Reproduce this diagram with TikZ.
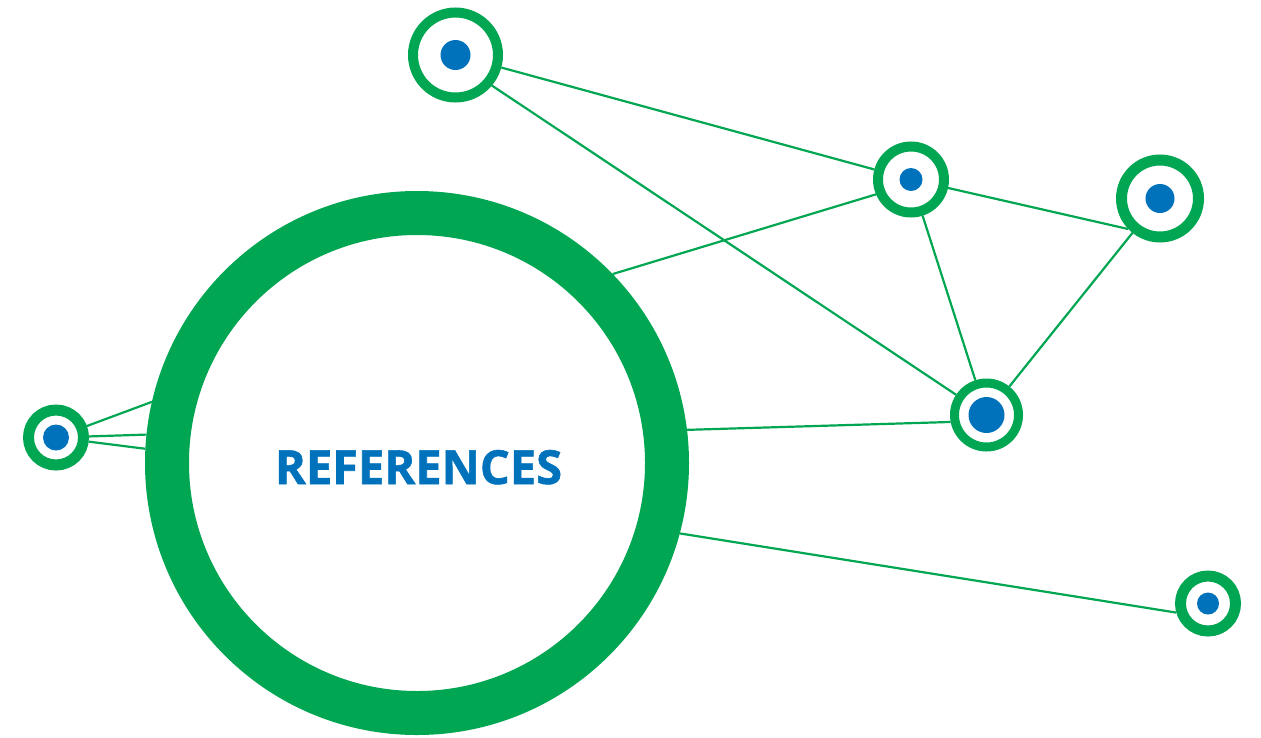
\documentclass[tikz,border=0pt]{standalone}
\usepackage{fontspec}
\setmainfont{Open Sans}[BoldFeatures={FakeBold=1.2}]
\definecolor{ngreen}{RGB}{0,166,81}
\definecolor{nblue}{RGB}{0,114,188}
\tikzset{
  ring/.style 2 args={circle, draw=ngreen, fill=white, line width=#2pt,
    minimum size=2*#1pt-#2pt, inner sep=0pt, outer sep=#2pt/2},
  bluedot/.style={circle, fill=nblue, inner sep=0pt, minimum size=#1},
  link/.style={draw=ngreen, line width=2.2pt},
  titletext/.style={text=nblue, font=\fontsize{47}{56}\selectfont\bfseries, inner sep=0pt}
}
\begin{document}
\begin{tikzpicture}[x=1pt, y=-1pt]
\useasboundingbox (0,0) rectangle (1261,737);
% big ring
\node[ring={272}{44}] (big) at (417,463) {};
\node[titletext, anchor=base] (title) at (418.5,484) {REFERENCES};
% small nodes
\node[ring={47.5}{10}] (n1) at (455.5,55) {};
\node[bluedot=30pt] (n1d) at (n1) {};
\node[ring={38}{10}] (n2) at (911,179.5) {};
\node[bluedot=23pt] (n2d) at (n2) {};
\node[ring={44}{11}] (n3) at (1160,198.5) {};
\node[bluedot=29pt] (n3d) at (n3) {};
\node[ring={36.5}{9}] (n4) at (986.5,415) {};
\node[bluedot=36pt] (n4d) at (n4) {};
\node[ring={33}{11}] (n5) at (56,437.5) {};
\node[bluedot=26pt] (n5d) at (n5) {};
\node[ring={33}{11}] (n6) at (1208,603.5) {};
\node[bluedot=22pt] (n6d) at (n6) {};
% links
\path[link] (n1) -- (n2);
\path[link] (n1.-40) -- (n4);
\path[link] (big.44.7) -- (n2.203);
\path[link] (n2) -- (n3.224);
\path[link] (n2) -- (n4);
\path[link] (n3) -- (n4);
\path[link] (big.7.4) -- (n4.191);
\path[link] (big.-15.8) -- (n6.196);
\path[link] (n5) -- (big.167.9);
\path[link] (n5) -- (big.174.3);
\path[link] (n5) -- (big.177.9);
\end{tikzpicture}
\end{document}
